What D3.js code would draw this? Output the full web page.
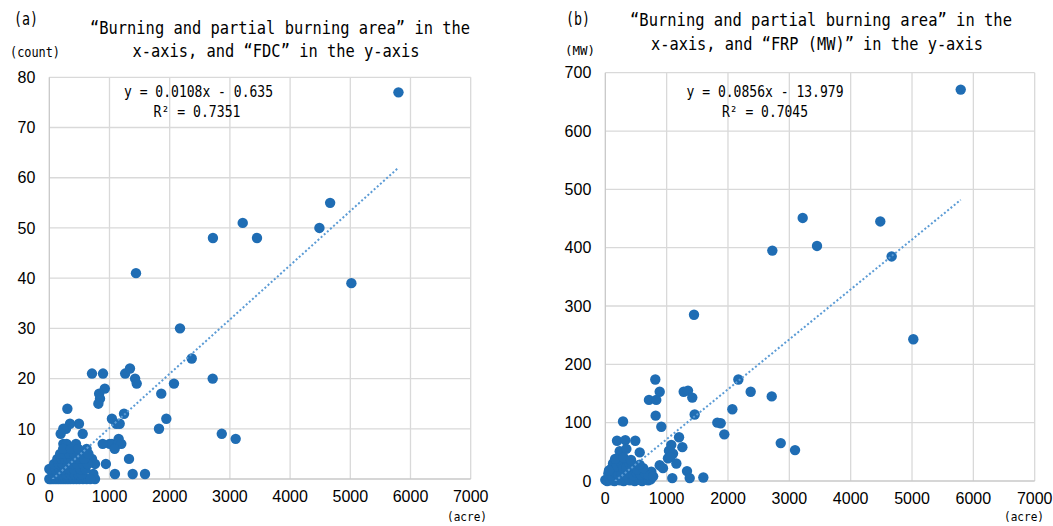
<!DOCTYPE html>
<html>
<head>
<meta charset="utf-8">
<script src="https://cdn.jsdelivr.net/npm/d3@7"></script>
<style>
  body { margin: 0; background: #fff; }
  svg text { fill: #000; }
</style>
</head>
<body>
<svg id="chart" width="1053" height="526"></svg>
<script>
// (a) burning area (acre) vs FDC (count)
const areaA = [
  5800, 4665, 4487, 5018, 3213, 3450, 2718, 2714, 2865, 3096, 2366, 2171, 2071, 1944, 1860, 1822, 1440, 1590,
  1260, 1340, 1425, 1452, 1241, 1040, 1113, 1169, 1324, 1090, 1385,
  709, 892, 922, 828, 842, 815, 1003, 1041, 1152, 1141, 1196, 1086, 887, 940, 709, 759, 731, 759,
  620, 593, 555, 493, 443, 300, 344, 277, 233, 189, 233, 289,
  0, 30, 70, 110, 150, 190, 230, 270, 310, 350, 400, 450, 500, 560, 620, 680,
  60, 130, 200, 280, 350, 420, 480, 540,
  0, 100, 170, 240, 330, 410, 520, 600,
  80, 150, 220, 300, 380, 460, 560, 640,
  133, 200, 260, 320, 372, 430, 498, 580,
  180, 250, 330, 420, 520, 650,
  230, 360, 480
];
const fdc = [
  77, 55, 50, 39, 51, 48, 48, 20, 9, 8, 24, 30, 19, 12, 17, 10, 41, 1,
  21, 22, 20, 19, 13, 12, 11, 11, 4, 1, 1,
  21, 21, 18, 17, 16, 15, 7, 7, 8, 7, 7, 6, 7, 3, 4, 3, 1, 0,
  6, 5, 9, 11, 7, 14, 11, 10, 10, 9, 7, 7,
  0, 0, 0, 0, 0, 0, 0, 0, 0, 0, 0, 0, 0, 0, 0, 0,
  1, 1, 1, 1, 1, 1, 1, 1,
  2, 2, 2, 2, 2, 2, 2, 2,
  3, 3, 3, 3, 3, 3, 3, 3,
  4, 4, 4, 4, 4, 4, 4, 4,
  5, 5, 5, 5, 5, 5,
  6, 6, 6
];

// (b) burning area (acre) vs FRP (MW)
const areaB = [
  5794, 4668, 4483, 5021, 3218, 3451, 2723, 2713, 2860, 3093, 2370, 2169, 2071, 1940, 1881, 1826, 1446, 1598,
  1278, 1348, 1418, 1457, 1202, 1256, 1076, 1038, 1104, 1022, 1060, 887, 940, 1158, 1332, 1092, 1376, 724,
  815, 887, 712, 831, 821, 913, 289, 191, 326, 489, 235, 343, 561, 750, 668,
  0, 30, 60, 90, 120, 150, 180, 210, 240, 270, 300, 330, 360, 400, 440, 480, 520, 560, 600, 650, 700, 740,
  50, 100, 158, 210, 267, 330, 403, 460, 512, 580, 647, 700, 780,
  104, 126, 180, 267, 294, 343, 400, 452, 520, 619, 560, 60,
  160, 300, 420
];
const frp = [
  671, 385, 445, 243, 451, 403, 395, 145, 65, 53, 153, 174, 123, 80, 99, 100, 285, 6,
  153, 155, 143, 114, 75, 58, 62, 52, 47, 39, 41, 27, 22, 30, 17, 5, 5, 5,
  174, 153, 139, 139, 112, 93, 102, 69, 70, 69, 51, 55, 49, 16, 5,
  2, 0, 4, 1, 6, 0, 3, 8, 1, 5, 0, 3, 7, 1, 4, 0, 6, 2, 0, 4, 1, 3,
  13, 10, 15, 12, 13, 11, 13, 10, 14, 11, 13, 10, 8,
  22, 30, 25, 30, 22, 23, 28, 26, 20, 22, 28, 18,
  38, 40, 36
];

const xTicks = [0, 1000, 2000, 3000, 4000, 5000, 6000, 7000];
const fdcTicks = [0, 10, 20, 30, 40, 50, 60, 70, 80];
const frpTicks = [0, 100, 200, 300, 400, 500, 600, 700];

const fitA = { slope: 0.0108, intercept: -0.635, eq: "y = 0.0108x - 0.635", r2: "R² = 0.7351" };
const fitB = { slope: 0.0856, intercept: -13.979, eq: "y = 0.0856x - 13.979", r2: "R² = 0.7045" };

const svg = d3.select("#chart");
const MONO = "'DejaVu Sans Mono', 'Liberation Mono', monospace";
const NARROW = "'Liberation Sans Narrow', 'Liberation Sans', Arial, sans-serif";

// squeezed monospaced text, to mimic the MS Gothic look of the original
function label(txt, x, y, size, width, anchor) {
  svg.append("text")
    .attr("x", x).attr("y", y)
    .attr("font-family", MONO).attr("font-size", size)
    .attr("text-anchor", anchor || "middle")
    .attr("textLength", width).attr("lengthAdjust", "spacingAndGlyphs")
    .text(txt);
}

function panel(o) {
  const x = d3.scaleLinear().domain([0, 7000]).range([o.left, o.right]);
  const y = d3.scaleLinear().domain([0, o.yTicks[o.yTicks.length - 1]]).range([o.bottom, o.top]);
  const g = svg.append("g");

  const clipId = "clip-" + o.id;
  g.append("clipPath").attr("id", clipId)
    .append("rect")
    .attr("x", o.left).attr("y", o.top)
    .attr("width", o.right - o.left).attr("height", o.bottom - o.top);

  // grid
  g.append("g").selectAll("line").data(xTicks.slice(1)).join("line")
    .attr("x1", d => x(d)).attr("x2", d => x(d))
    .attr("y1", o.top).attr("y2", o.bottom)
    .attr("stroke", "#d9d9d9").attr("stroke-width", 1.3);
  g.append("g").selectAll("line").data(o.yTicks.slice(1)).join("line")
    .attr("x1", o.left).attr("x2", o.right)
    .attr("y1", d => y(d)).attr("y2", d => y(d))
    .attr("stroke", "#d9d9d9").attr("stroke-width", 1.3);
  // axes
  g.append("line").attr("x1", o.left).attr("x2", o.left).attr("y1", o.top).attr("y2", o.bottom)
    .attr("stroke", "#c8c8c8").attr("stroke-width", 1.3);
  g.append("line").attr("x1", o.left).attr("x2", o.right).attr("y1", o.bottom).attr("y2", o.bottom)
    .attr("stroke", "#c8c8c8").attr("stroke-width", 1.3);

  // tick labels
  g.append("g").selectAll("text").data(xTicks).join("text")
    .attr("x", d => x(d)).attr("y", o.bottom + 23)
    .attr("text-anchor", "middle")
    .attr("font-family", NARROW).attr("font-size", 16)
    .text(d => d);
  g.append("g").selectAll("text").data(o.yTicks).join("text")
    .attr("x", o.left - 14).attr("y", d => y(d)).attr("dy", "0.36em")
    .attr("text-anchor", "end")
    .attr("font-family", NARROW).attr("font-size", 16)
    .text(d => d);

  // dots
  g.append("g").selectAll("circle").data(o.xs).join("circle")
    .attr("cx", d => x(d)).attr("cy", (d, i) => y(o.ys[i]))
    .attr("r", 5.2)
    .attr("fill", "#1f6db4");

  // linear trendline, dotted
  const x0 = d3.min(o.xs), x1 = d3.max(o.xs);
  g.append("line")
    .attr("clip-path", `url(#${clipId})`)
    .attr("x1", x(x0)).attr("y1", y(o.fit.slope * x0 + o.fit.intercept))
    .attr("x2", x(x1)).attr("y2", y(o.fit.slope * x1 + o.fit.intercept))
    .attr("stroke", "#5b9bd5").attr("stroke-width", 2)
    .attr("stroke-dasharray", "2,2.2");
}

panel({ id: "a", left: 49.3, right: 470.7, top: 77.3, bottom: 479, xs: areaA, ys: fdc, yTicks: fdcTicks, fit: fitA });
panel({ id: "b", left: 605.3, right: 1034.7, top: 72.7, bottom: 481, xs: areaB, ys: frp, yTicks: frpTicks, fit: fitB });

// texts of panel (a)
label("(a)", 14, 25, 17, 24, "start");
label("“Burning and partial burning area” in the", 280, 34, 17, 380);
label("x-axis, and “FDC” in the y-axis", 276, 57, 17, 287);
label("(count)", 10, 57, 14, 50, "start");
label(fitA.eq, 198.5, 97, 15, 149);
label(fitA.r2, 197, 117, 15, 87);
label("(acre)", 467, 521, 13, 40);

// texts of panel (b)
label("(b)", 566, 25, 17, 24, "start");
label("“Burning and partial burning area” in the", 821, 26, 17, 382);
label("x-axis, and “FRP (MW)” in the y-axis", 817, 50, 17, 332);
label("(MW)", 565, 55, 13, 30, "start");
label(fitB.eq, 765, 97, 15, 157);
label(fitB.r2, 765, 117, 15, 86);
label("(acre)", 1024, 521, 13, 40);
</script>
</body>
</html>
